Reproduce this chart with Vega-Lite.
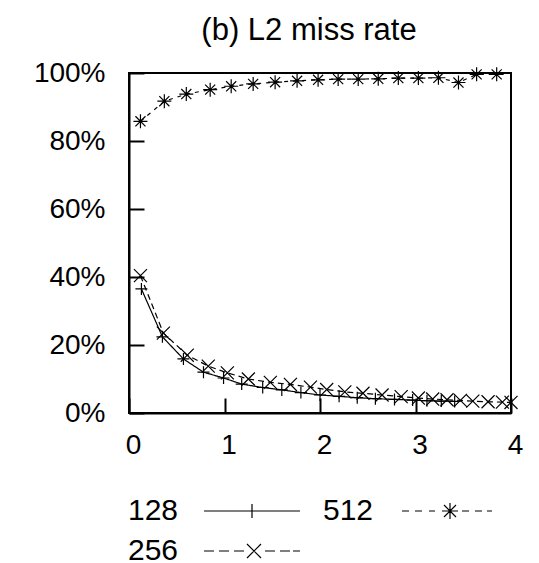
{
  "$schema": "https://vega.github.io/schema/vega-lite/v6.json",
  "width": 382,
  "height": 340,
  "autosize": {"type": "none"},
  "padding": {"left": 129, "top": 73, "right": 28, "bottom": 150},
  "background": "white",
  "title": {"text": "(b) L2 miss rate", "fontSize": 31, "font": "Liberation Sans", "fontWeight": "normal", "color": "black", "anchor": "middle", "baseline": "alphabetic", "offset": -12, "dx": -11},
  "config": {
    "view": {"stroke": "black", "strokeWidth": 2},
    "font": "Liberation Sans",
    "axis": {"grid": false, "domainColor": "black", "domainWidth": 2, "tickColor": "black", "tickWidth": 2, "tickSize": -15, "labelFont": "Liberation Sans", "labelFontSize": 28, "labelColor": "black", "title": null}
  },
  "data": {"values": [
    {"series": "128", "x": 0.13, "rate": 36.5},
    {"series": "128", "x": 0.35, "rate": 22.4},
    {"series": "128", "x": 0.57, "rate": 15.9},
    {"series": "128", "x": 0.78, "rate": 12.0},
    {"series": "128", "x": 0.99, "rate": 10.3},
    {"series": "128", "x": 1.18, "rate": 8.5},
    {"series": "128", "x": 1.40, "rate": 7.5},
    {"series": "128", "x": 1.60, "rate": 6.8},
    {"series": "128", "x": 1.80, "rate": 6.0},
    {"series": "128", "x": 2.00, "rate": 5.3},
    {"series": "128", "x": 2.20, "rate": 4.9},
    {"series": "128", "x": 2.39, "rate": 4.5},
    {"series": "128", "x": 2.58, "rate": 4.2},
    {"series": "128", "x": 2.78, "rate": 4.0},
    {"series": "128", "x": 2.97, "rate": 3.8},
    {"series": "128", "x": 3.12, "rate": 3.6},
    {"series": "128", "x": 3.27, "rate": 3.5},
    {"series": "128", "x": 3.41, "rate": 3.4},
    {"series": "256", "x": 0.12, "rate": 40.4},
    {"series": "256", "x": 0.36, "rate": 23.5},
    {"series": "256", "x": 0.61, "rate": 17.0},
    {"series": "256", "x": 0.83, "rate": 13.8},
    {"series": "256", "x": 1.03, "rate": 11.8},
    {"series": "256", "x": 1.25, "rate": 10.0},
    {"series": "256", "x": 1.48, "rate": 9.0},
    {"series": "256", "x": 1.69, "rate": 8.4},
    {"series": "256", "x": 1.90, "rate": 7.6},
    {"series": "256", "x": 2.07, "rate": 6.9},
    {"series": "256", "x": 2.26, "rate": 6.2},
    {"series": "256", "x": 2.45, "rate": 5.8},
    {"series": "256", "x": 2.65, "rate": 5.3},
    {"series": "256", "x": 2.85, "rate": 4.8},
    {"series": "256", "x": 3.03, "rate": 4.4},
    {"series": "256", "x": 3.18, "rate": 4.1},
    {"series": "256", "x": 3.33, "rate": 3.9},
    {"series": "256", "x": 3.47, "rate": 3.7},
    {"series": "256", "x": 3.60, "rate": 3.5},
    {"series": "256", "x": 3.76, "rate": 3.3},
    {"series": "256", "x": 3.91, "rate": 3.2},
    {"series": "256", "x": 4.00, "rate": 3.1},
    {"series": "512", "x": 0.12, "rate": 85.8},
    {"series": "512", "x": 0.37, "rate": 91.7},
    {"series": "512", "x": 0.60, "rate": 93.8},
    {"series": "512", "x": 0.85, "rate": 95.1},
    {"series": "512", "x": 1.07, "rate": 96.1},
    {"series": "512", "x": 1.30, "rate": 96.8},
    {"series": "512", "x": 1.53, "rate": 97.3},
    {"series": "512", "x": 1.76, "rate": 97.7},
    {"series": "512", "x": 1.98, "rate": 98.0},
    {"series": "512", "x": 2.19, "rate": 98.2},
    {"series": "512", "x": 2.40, "rate": 98.2},
    {"series": "512", "x": 2.61, "rate": 98.3},
    {"series": "512", "x": 2.82, "rate": 98.5},
    {"series": "512", "x": 3.03, "rate": 98.5},
    {"series": "512", "x": 3.24, "rate": 98.6},
    {"series": "512", "x": 3.45, "rate": 97.2},
    {"series": "512", "x": 3.64, "rate": 99.6},
    {"series": "512", "x": 3.85, "rate": 99.6}
  ]},
  "encoding": {
    "x": {"field": "x", "type": "quantitative", "scale": {"domain": [0, 4], "nice": false, "zero": false},
      "axis": {"values": [0, 1, 2, 3, 4], "format": "d", "labelPadding": 33, "labelOffset": 4, "labelFlush": false}},
    "y": {"field": "rate", "type": "quantitative", "scale": {"domain": [0, 100], "nice": false},
      "axis": {"values": [0, 20, 40, 60, 80, 100], "labelExpr": "datum.value + '%'", "labelPadding": 39}}
  },
  "layer": [
    {
      "mark": {"type": "line", "color": "black", "strokeWidth": 1.2, "clip": false},
      "encoding": {
        "strokeDash": {"field": "series", "type": "nominal", "scale": {"domain": ["128", "256", "512"], "range": [[1, 0], [6, 4], [4, 5]]}, "legend": null}
      }
    },
    {
      "mark": {"type": "point", "filled": false, "color": "black", "strokeWidth": 1.2, "opacity": 1, "clip": false},
      "encoding": {
        "shape": {"field": "series", "type": "nominal", "scale": {"domain": ["128", "256", "512"], "range": ["M-1,0H1M0,-1V1", "M-1,-1L1,1M-1,1L1,-1", "M-1,0H1M0,-1V1M-0.72,-0.72L0.72,0.72M-0.72,0.72L0.72,-0.72"]}, "legend": null},
        "size": {"field": "series", "type": "nominal", "scale": {"domain": ["128", "256", "512"], "range": [144, 196, 256]}, "legend": null}
      }
    },
    {
      "mark": {"type": "point", "filled": false, "color": "black", "strokeWidth": 1, "opacity": 0, "size": 4},
      "encoding": {
        "shape": {"field": "series", "type": "nominal",
          "scale": {"domain": ["128", "512", "256"], "range": [
            "M71,0H167M119,-7V7",
            "M74,0H81M87,0H94M101,0H107M114,0H130M122,-8V8M116,-6L128,6M116,6L128,-6M134,0H141M147,0H154M159,0H164",
            "M71,0H81M86,0H96M101,0H111M114,-7L128,7M114,7L128,-7M132,0H142M147,0H157M160,0H167"
          ]},
          "legend": {"title": null, "orient": "none", "legendX": -11, "legendY": 423, "direction": "horizontal", "columns": 2, "columnPadding": 10, "rowPadding": 10, "symbolSize": 4, "symbolStrokeColor": "black", "symbolStrokeWidth": 1.2, "symbolFillColor": "transparent", "symbolOpacity": 1, "labelFont": "Liberation Sans", "labelFontSize": 30, "labelColor": "black", "labelOffset": -20, "labelLimit": 200}
        }
      }
    }
  ],
  "resolve": {"scale": {"shape": "independent"}, "legend": {"shape": "independent"}}
}
